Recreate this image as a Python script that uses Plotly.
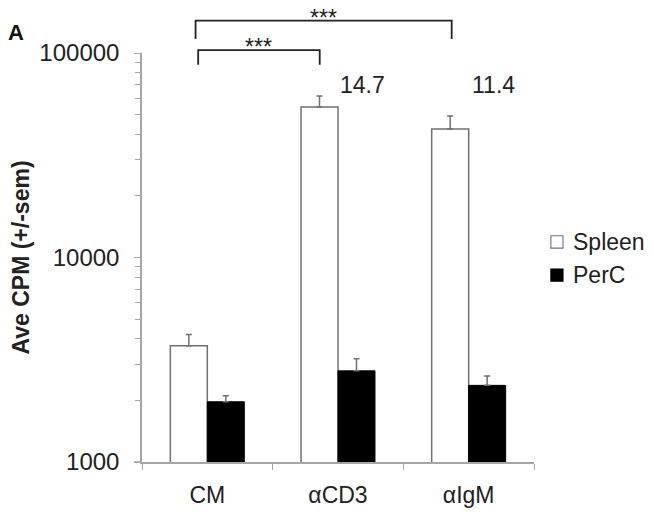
import plotly.graph_objects as go

categories = ["CM", "αCD3", "αIgM"]
spleen = [3700, 54400, 42500]
spleen_sem = [500, 7200, 6700]
perc = [1970, 2790, 2370]
perc_sem = [140, 410, 260]
fold_labels = ["", "14.7", "11.4"]

font = "Liberation Sans, Arial, sans-serif"
axis_grey = "#a6a6a6"

fig = go.Figure()
fig.add_trace(go.Bar(
    x=categories, y=spleen, name="Spleen", showlegend=False,
    marker=dict(color="white", line=dict(color="#707070", width=1.5)),
    error_y=dict(type="data", symmetric=False, array=spleen_sem,
                 arrayminus=[0, 0, 0], color="#707070", thickness=1.5, width=3),
))
fig.add_trace(go.Bar(
    x=categories, y=perc, name="PerC", showlegend=False,
    marker=dict(color="black", line=dict(color="black", width=1)),
    error_y=dict(type="data", symmetric=False, array=perc_sem,
                 arrayminus=[0, 0, 0], color="#707070", thickness=1.5, width=3),
))

# fold-change labels over stimulated groups
for i, lab in enumerate(fold_labels):
    if lab:
        fig.add_annotation(x=i + 0.19, xref="x", y=0.922, yref="paper",
                           text=lab, showarrow=False,
                           xanchor="center", yanchor="middle",
                           font=dict(size=23, color="#222"))

# significance brackets
def bracket(x0, x1, ytop, ybot, stars_y):
    fig.add_shape(type="path", xref="x", yref="paper",
                  path=f"M {x0},{ybot} L {x0},{ytop} L {x1},{ytop} L {x1},{ybot}",
                  line=dict(color="#222", width=1.8))
    fig.add_annotation(x=(x0 + x1) / 2, xref="x", y=stars_y, yref="paper",
                       text="***", showarrow=False, xanchor="center", yanchor="middle",
                       font=dict(size=23, color="#222"))

bracket(-0.07, 0.86, 1.007, 0.971, 1.015)
bracket(-0.09, 1.87, 1.079, 1.034, 1.085)

# panel letter
fig.add_annotation(x=-0.321, xref="paper", y=1.049, yref="paper", text="<b>A</b>",
                   xanchor="center", yanchor="middle",
                   showarrow=False, font=dict(size=22, color="#111"))

# small stub of the x axis left of the y axis
fig.add_shape(type="line", xref="paper", yref="paper", x0=-0.02, x1=0, y0=0, y1=0,
              line=dict(color=axis_grey, width=1.5))

# legend drawn by hand so it does not push the right margin
legend_items = [("Spleen", "white", "#707070", 0.538), ("PerC", "black", "black", 0.457)]
for name, fill, edge, ly in legend_items:
    fig.add_shape(type="rect", xref="paper", yref="paper",
                  x0=1.043, x1=1.074, y0=ly - 0.015, y1=ly + 0.015,
                  fillcolor=fill, line=dict(color=edge, width=1.1))
    fig.add_annotation(x=1.095, xref="paper", y=ly, yref="paper", text=name,
                       xanchor="left", yanchor="middle", showarrow=False,
                       font=dict(size=23, color="#222"))

fig.update_layout(
    width=654, height=517,
    margin=dict(l=134, r=128, t=45, b=63),
    paper_bgcolor="white", plot_bgcolor="white",
    font=dict(family=font, size=23, color="#222"),
    barmode="group", bargap=0.434, bargroupgap=0,
    showlegend=False,
    xaxis=dict(showline=True, linecolor=axis_grey, linewidth=1.5,
               ticks="outside", tickson="boundaries", ticklen=6,
               tickcolor=axis_grey, ticklabelstandoff=12,
               tickfont=dict(size=23), automargin=False),
    yaxis=dict(type="log", range=[3, 5], showline=True, linecolor=axis_grey,
               linewidth=1.5, showgrid=False, ticks="outside", ticklen=6,
               tickcolor=axis_grey, tickvals=[1000, 10000, 100000],
               ticktext=["1000", "10000", "100000"], ticklabelstandoff=10,
               tickfont=dict(size=24), automargin=False,
               minor=dict(ticks="outside", ticklen=5, tickcolor=axis_grey,
                          dtick="D1", showgrid=False),
               title=dict(text="<b>Ave CPM (+/-sem)</b>", standoff=4,
                          font=dict(size=23))),
)

fig.write_html("out.html")
